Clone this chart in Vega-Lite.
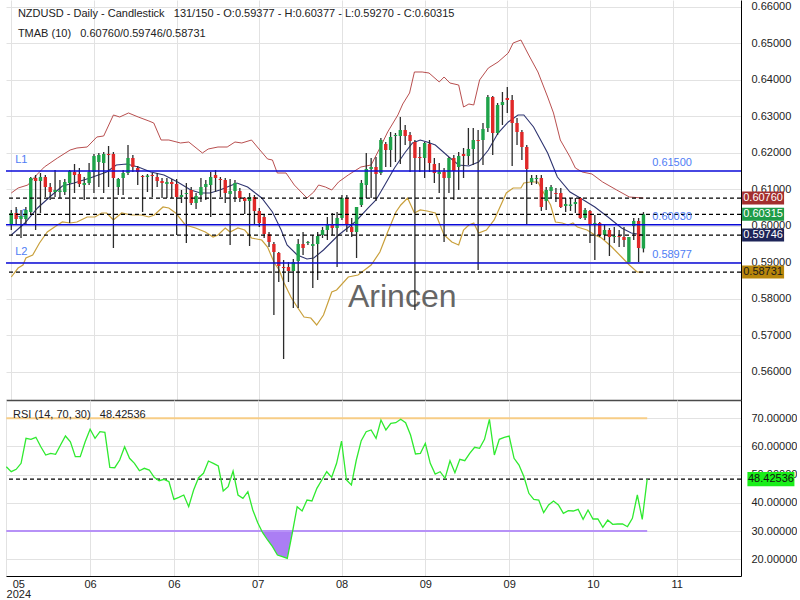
{
"$schema":"https://vega.github.io/schema/vega-lite/v6.json",
"background":"#ffffff",
"padding":{"left":3,"top":0,"right":0,"bottom":0},
"spacing":0,
"config":{"view":{"stroke":null},"font":"Liberation Sans","axis":{"labelFont":"Liberation Sans","labelFontSize":11,"labelColor":"#222222","gridColor":"#e2e2e2","ticks":false,"labelOverlap":false,"labelSeparation":-40}},
"datasets":{
"candles":[
{"i":0,"o":0.60022,"h":0.60433,"l":0.59884,"c":0.60351},
{"i":1,"o":0.60351,"h":0.60515,"l":0.60022,"c":0.60186},
{"i":2,"o":0.60186,"h":0.60433,"l":0.59665,"c":0.60268},
{"i":3,"o":0.60186,"h":0.60515,"l":0.60022,"c":0.60433},
{"i":4,"o":0.60378,"h":0.61338,"l":0.60296,"c":0.6131},
{"i":5,"o":0.6131,"h":0.61393,"l":0.59884,"c":0.61228},
{"i":6,"o":0.61228,"h":0.61447,"l":0.60351,"c":0.61338},
{"i":7,"o":0.61338,"h":0.61393,"l":0.60789,"c":0.61063},
{"i":8,"o":0.61063,"h":0.61173,"l":0.60707,"c":0.60926},
{"i":9,"o":0.60926,"h":0.6153,"l":0.60789,"c":0.60981},
{"i":10,"o":0.60926,"h":0.61255,"l":0.60762,"c":0.60967},
{"i":11,"o":0.60926,"h":0.61283,"l":0.60844,"c":0.61201},
{"i":12,"o":0.61173,"h":0.6153,"l":0.60076,"c":0.61502},
{"i":13,"o":0.61475,"h":0.61694,"l":0.60899,"c":0.61393},
{"i":14,"o":0.6142,"h":0.61584,"l":0.61063,"c":0.61146},
{"i":15,"o":0.61118,"h":0.61338,"l":0.60707,"c":0.61173},
{"i":16,"o":0.61173,"h":0.61722,"l":0.61118,"c":0.61475},
{"i":17,"o":0.61475,"h":0.61968,"l":0.60899,"c":0.61914},
{"i":18,"o":0.61749,"h":0.61996,"l":0.61063,"c":0.61941},
{"i":19,"o":0.61722,"h":0.62023,"l":0.60899,"c":0.61968},
{"i":20,"o":0.61968,"h":0.62188,"l":0.61063,"c":0.61941},
{"i":21,"o":0.61968,"h":0.62023,"l":0.59391,"c":0.6131},
{"i":22,"o":0.61063,"h":0.6131,"l":0.60844,"c":0.61283},
{"i":23,"o":0.6131,"h":0.6153,"l":0.60844,"c":0.61447},
{"i":24,"o":0.61447,"h":0.62215,"l":0.61393,"c":0.61859},
{"i":25,"o":0.61859,"h":0.61941,"l":0.61475,"c":0.61612},
{"i":26,"o":0.61584,"h":0.61639,"l":0.61118,"c":0.61475},
{"i":27,"o":0.61365,"h":0.61393,"l":0.60378,"c":0.61338},
{"i":28,"o":0.61338,"h":0.6142,"l":0.60926,"c":0.61379},
{"i":29,"o":0.61393,"h":0.61447,"l":0.60789,"c":0.61365},
{"i":30,"o":0.61338,"h":0.61447,"l":0.61063,"c":0.61228},
{"i":31,"o":0.61228,"h":0.6131,"l":0.60762,"c":0.61173},
{"i":32,"o":0.61146,"h":0.6131,"l":0.60762,"c":0.61201},
{"i":33,"o":0.61201,"h":0.61283,"l":0.60762,"c":0.61146},
{"i":34,"o":0.61146,"h":0.61283,"l":0.59747,"c":0.60789},
{"i":35,"o":0.60789,"h":0.60981,"l":0.60625,"c":0.60844},
{"i":36,"o":0.60871,"h":0.61173,"l":0.59528,"c":0.60899},
{"i":37,"o":0.60981,"h":0.61063,"l":0.6057,"c":0.60625},
{"i":38,"o":0.60625,"h":0.60899,"l":0.6046,"c":0.60817},
{"i":39,"o":0.60844,"h":0.6131,"l":0.60652,"c":0.61063},
{"i":40,"o":0.61063,"h":0.61255,"l":0.60707,"c":0.61146},
{"i":41,"o":0.61118,"h":0.61475,"l":0.60241,"c":0.61338},
{"i":42,"o":0.61393,"h":0.6153,"l":0.60926,"c":0.6131},
{"i":43,"o":0.61283,"h":0.61338,"l":0.60789,"c":0.61255},
{"i":44,"o":0.61255,"h":0.6131,"l":0.60625,"c":0.60899},
{"i":45,"o":0.60871,"h":0.61283,"l":0.59473,"c":0.60954},
{"i":46,"o":0.60954,"h":0.61255,"l":0.60652,"c":0.61173},
{"i":47,"o":0.60954,"h":0.61036,"l":0.60652,"c":0.60762},
{"i":48,"o":0.60762,"h":0.60789,"l":0.60323,"c":0.6068},
{"i":49,"o":0.6068,"h":0.60899,"l":0.59446,"c":0.60789},
{"i":50,"o":0.60789,"h":0.60844,"l":0.60022,"c":0.60405},
{"i":51,"o":0.60405,"h":0.60488,"l":0.59967,"c":0.60076},
{"i":52,"o":0.60241,"h":0.60296,"l":0.59665,"c":0.59775},
{"i":53,"o":0.59775,"h":0.5983,"l":0.59418,"c":0.59555},
{"i":54,"o":0.59501,"h":0.59555,"l":0.57554,"c":0.59281},
{"i":55,"o":0.59254,"h":0.59281,"l":0.58459,"c":0.58897},
{"i":56,"o":0.5887,"h":0.59062,"l":0.56347,"c":0.58842},
{"i":57,"o":0.5887,"h":0.59007,"l":0.58459,"c":0.5876},
{"i":58,"o":0.5876,"h":0.59089,"l":0.57746,"c":0.59007},
{"i":59,"o":0.59034,"h":0.59638,"l":0.57746,"c":0.59501},
{"i":60,"o":0.59501,"h":0.5983,"l":0.59199,"c":0.59391},
{"i":61,"o":0.59528,"h":0.59583,"l":0.59473,"c":0.59555},
{"i":62,"o":0.59446,"h":0.59747,"l":0.58294,"c":0.59501},
{"i":63,"o":0.59501,"h":0.5983,"l":0.58514,"c":0.5972},
{"i":64,"o":0.59747,"h":0.59967,"l":0.59665,"c":0.59884},
{"i":65,"o":0.59884,"h":0.60241,"l":0.5961,"c":0.60049},
{"i":66,"o":0.60049,"h":0.60351,"l":0.59747,"c":0.59939},
{"i":67,"o":0.59939,"h":0.60378,"l":0.5887,"c":0.60214},
{"i":68,"o":0.60214,"h":0.60844,"l":0.60159,"c":0.60762},
{"i":69,"o":0.60762,"h":0.60844,"l":0.5983,"c":0.60022},
{"i":70,"o":0.59967,"h":0.60214,"l":0.59693,"c":0.5983},
{"i":71,"o":0.5983,"h":0.60515,"l":0.59117,"c":0.60515},
{"i":72,"o":0.6057,"h":0.61255,"l":0.60515,"c":0.61173},
{"i":73,"o":0.61118,"h":0.61996,"l":0.60762,"c":0.61557},
{"i":74,"o":0.61557,"h":0.61859,"l":0.60762,"c":0.61612},
{"i":75,"o":0.61612,"h":0.61886,"l":0.6068,"c":0.6142},
{"i":76,"o":0.61447,"h":0.62407,"l":0.61393,"c":0.62352},
{"i":77,"o":0.62243,"h":0.62297,"l":0.61612,"c":0.62078},
{"i":78,"o":0.62078,"h":0.62572,"l":0.61612,"c":0.62435},
{"i":79,"o":0.62462,"h":0.62544,"l":0.61749,"c":0.62489},
{"i":80,"o":0.62462,"h":0.62983,"l":0.61694,"c":0.62626},
{"i":81,"o":0.62626,"h":0.62764,"l":0.62215,"c":0.62462},
{"i":82,"o":0.62489,"h":0.62572,"l":0.61475,"c":0.62325},
{"i":83,"o":0.62297,"h":0.62352,"l":0.57691,"c":0.61859},
{"i":84,"o":0.61886,"h":0.6216,"l":0.61475,"c":0.61859},
{"i":85,"o":0.61859,"h":0.62297,"l":0.6131,"c":0.6227},
{"i":86,"o":0.62243,"h":0.62352,"l":0.61475,"c":0.61722},
{"i":87,"o":0.61694,"h":0.61859,"l":0.61173,"c":0.61447},
{"i":88,"o":0.6142,"h":0.61722,"l":0.60899,"c":0.61475},
{"i":89,"o":0.61475,"h":0.61584,"l":0.59555,"c":0.6131},
{"i":90,"o":0.6131,"h":0.61886,"l":0.60899,"c":0.61859},
{"i":91,"o":0.61859,"h":0.61941,"l":0.60707,"c":0.61502},
{"i":92,"o":0.61612,"h":0.62023,"l":0.60981,"c":0.61914},
{"i":93,"o":0.61968,"h":0.62133,"l":0.6131,"c":0.61914},
{"i":94,"o":0.61914,"h":0.62681,"l":0.61667,"c":0.62105},
{"i":95,"o":0.62105,"h":0.62681,"l":0.61667,"c":0.62352},
{"i":96,"o":0.62352,"h":0.62626,"l":0.58788,"c":0.62325},
{"i":97,"o":0.62352,"h":0.62818,"l":0.61667,"c":0.62654},
{"i":98,"o":0.62681,"h":0.63586,"l":0.62572,"c":0.63531},
{"i":99,"o":0.63531,"h":0.63559,"l":0.61941,"c":0.62544},
{"i":100,"o":0.62544,"h":0.63367,"l":0.62489,"c":0.63312},
{"i":101,"o":0.63312,"h":0.63668,"l":0.62764,"c":0.63394},
{"i":102,"o":0.63504,"h":0.63806,"l":0.63093,"c":0.63449},
{"i":103,"o":0.63449,"h":0.63586,"l":0.61639,"c":0.62818},
{"i":104,"o":0.62818,"h":0.62955,"l":0.62215,"c":0.62572},
{"i":105,"o":0.62572,"h":0.62626,"l":0.61804,"c":0.6216},
{"i":106,"o":0.6216,"h":0.62215,"l":0.60049,"c":0.61557},
{"i":107,"o":0.61201,"h":0.61393,"l":0.61118,"c":0.6131},
{"i":108,"o":0.61283,"h":0.61393,"l":0.61146,"c":0.6131},
{"i":109,"o":0.6131,"h":0.61393,"l":0.60405,"c":0.60515},
{"i":110,"o":0.6068,"h":0.61063,"l":0.60433,"c":0.60981},
{"i":111,"o":0.60954,"h":0.61118,"l":0.60762,"c":0.61063},
{"i":112,"o":0.60899,"h":0.61036,"l":0.60652,"c":0.60871},
{"i":113,"o":0.60899,"h":0.61036,"l":0.60488,"c":0.60515},
{"i":114,"o":0.60542,"h":0.60762,"l":0.60378,"c":0.60597},
{"i":115,"o":0.60542,"h":0.60762,"l":0.60405,"c":0.60584},
{"i":116,"o":0.60597,"h":0.60762,"l":0.60351,"c":0.60652},
{"i":117,"o":0.60762,"h":0.60789,"l":0.60186,"c":0.60214},
{"i":118,"o":0.60214,"h":0.60488,"l":0.60159,"c":0.60433},
{"i":119,"o":0.60405,"h":0.60433,"l":0.59528,"c":0.60049},
{"i":120,"o":0.60049,"h":0.60296,"l":0.59062,"c":0.60076},
{"i":121,"o":0.60076,"h":0.60104,"l":0.59693,"c":0.59747},
{"i":122,"o":0.59747,"h":0.60022,"l":0.5961,"c":0.59884},
{"i":123,"o":0.59884,"h":0.59939,"l":0.59171,"c":0.59693},
{"i":124,"o":0.59693,"h":0.59967,"l":0.59528,"c":0.5972},
{"i":125,"o":0.5972,"h":0.59884,"l":0.59418,"c":0.59693},
{"i":126,"o":0.59693,"h":0.59967,"l":0.59418,"c":0.5961},
{"i":127,"o":0.59007,"h":0.59693,"l":0.59007,"c":0.59693},
{"i":128,"o":0.59994,"h":0.60214,"l":0.5961,"c":0.60131},
{"i":129,"o":0.60131,"h":0.60214,"l":0.59007,"c":0.59391},
{"i":130,"o":0.59377,"h":0.60377,"l":0.5927,"c":0.60315}
],
"upper":[
{"i":0,"p":0.60899},{"i":1.4,"p":0.61036},{"i":3.4,"p":0.61118},{"i":4.8,"p":0.61338},{"i":6.8,"p":0.61612},{"i":9.5,"p":0.61859},{"i":12.1,"p":0.62078},{"i":13.5,"p":0.62133},{"i":15.6,"p":0.6216},{"i":17.6,"p":0.62435},{"i":19,"p":0.62462},{"i":21,"p":0.63038},{"i":22.3,"p":0.62983},{"i":24.1,"p":0.63093},{"i":26.1,"p":0.62983},{"i":28.3,"p":0.62873},{"i":29.3,"p":0.62818},{"i":30.8,"p":0.62352},{"i":32.4,"p":0.62352},{"i":34.8,"p":0.6227},{"i":36.5,"p":0.62297},{"i":39.3,"p":0.61996},{"i":40.5,"p":0.62105},{"i":42.5,"p":0.6216},{"i":44.4,"p":0.6216},{"i":46,"p":0.62297},{"i":47.4,"p":0.6227},{"i":49.4,"p":0.62352},{"i":50.6,"p":0.6216},{"i":52.7,"p":0.61831},{"i":53.7,"p":0.61804},{"i":54.7,"p":0.61447},{"i":56.5,"p":0.61447},{"i":58.2,"p":0.61118},{"i":60.8,"p":0.60762},{"i":62.2,"p":0.60926},{"i":63.2,"p":0.61118},{"i":64.6,"p":0.61063},{"i":65.9,"p":0.60981},{"i":67.3,"p":0.61201},{"i":69.3,"p":0.61393},{"i":71.9,"p":0.61612},{"i":74,"p":0.61667},{"i":75.8,"p":0.62133},{"i":77.4,"p":0.62572},{"i":79.5,"p":0.63038},{"i":80.5,"p":0.63339},{"i":81.9,"p":0.63641},{"i":82.9,"p":0.64217},{"i":84.5,"p":0.64217},{"i":85.9,"p":0.64189},{"i":88,"p":0.63943},{"i":89,"p":0.6408},{"i":90.2,"p":0.63915},{"i":92,"p":0.6386},{"i":93,"p":0.63257},{"i":94.1,"p":0.63339},{"i":95.1,"p":0.63312},{"i":96.3,"p":0.63997},{"i":98.1,"p":0.64326},{"i":100.1,"p":0.64491},{"i":102.2,"p":0.64738},{"i":103.2,"p":0.65012},{"i":104.8,"p":0.65094},{"i":106.4,"p":0.64683},{"i":108.3,"p":0.64217},{"i":110.3,"p":0.63531},{"i":111.5,"p":0.63093},{"i":112.9,"p":0.62352},{"i":114.9,"p":0.61886},{"i":116,"p":0.61584},{"i":117.4,"p":0.61475},{"i":119.4,"p":0.6142},{"i":121.6,"p":0.61201},{"i":124.5,"p":0.60981},{"i":127.1,"p":0.60789},{"i":130,"p":0.6076}
],
"mid":[
{"i":0,"p":0.59747},{"i":2.8,"p":0.60076},{"i":5.4,"p":0.60488},{"i":7.9,"p":0.60789},{"i":10.5,"p":0.61091},{"i":12.9,"p":0.61173},{"i":16.2,"p":0.6131},{"i":19.6,"p":0.61475},{"i":21.6,"p":0.61667},{"i":23.7,"p":0.61694},{"i":26.1,"p":0.61612},{"i":28.7,"p":0.61475},{"i":31.4,"p":0.61393},{"i":34.2,"p":0.61201},{"i":36.9,"p":0.60981},{"i":38.9,"p":0.60899},{"i":40.9,"p":0.60899},{"i":42.9,"p":0.60981},{"i":46.4,"p":0.61173},{"i":48.6,"p":0.61063},{"i":51.5,"p":0.60762},{"i":53.7,"p":0.60378},{"i":55.5,"p":0.59884},{"i":56.7,"p":0.59473},{"i":58.8,"p":0.59199},{"i":60.8,"p":0.59089},{"i":62.2,"p":0.59117},{"i":64.2,"p":0.59336},{"i":67.3,"p":0.59747},{"i":70.7,"p":0.60104},{"i":73.4,"p":0.60488},{"i":75,"p":0.60707},{"i":76.8,"p":0.61118},{"i":78.8,"p":0.61584},{"i":80.9,"p":0.61996},{"i":82.5,"p":0.6227},{"i":84.1,"p":0.62352},{"i":85.5,"p":0.62297},{"i":87.2,"p":0.62215},{"i":90,"p":0.61886},{"i":92,"p":0.61667},{"i":94.1,"p":0.61639},{"i":96.1,"p":0.61749},{"i":98.1,"p":0.62078},{"i":100.1,"p":0.62544},{"i":102.2,"p":0.62846},{"i":104.2,"p":0.63038},{"i":105.4,"p":0.63038},{"i":107.4,"p":0.6271},{"i":110.3,"p":0.61996},{"i":112.3,"p":0.61338},{"i":114.9,"p":0.60926},{"i":117,"p":0.60762},{"i":120,"p":0.60515},{"i":122.7,"p":0.60241},{"i":125.5,"p":0.59939},{"i":127.5,"p":0.59802},{"i":130,"p":0.59746}
],
"lower":[
{"i":0,"p":0.58596},{"i":1.4,"p":0.58842},{"i":2.4,"p":0.58925},{"i":3,"p":0.59117},{"i":4.4,"p":0.59199},{"i":5.8,"p":0.59528},{"i":7.4,"p":0.5983},{"i":9.5,"p":0.60022},{"i":10.5,"p":0.60104},{"i":12.1,"p":0.60076},{"i":13.5,"p":0.60104},{"i":15.6,"p":0.60241},{"i":17.2,"p":0.60241},{"i":18.6,"p":0.60351},{"i":19.6,"p":0.60351},{"i":21,"p":0.60159},{"i":22.7,"p":0.60351},{"i":24.7,"p":0.60296},{"i":26.7,"p":0.60296},{"i":28.3,"p":0.60241},{"i":29.4,"p":0.60296},{"i":31.2,"p":0.60515},{"i":32.4,"p":0.60488},{"i":33.8,"p":0.60351},{"i":35.8,"p":0.60022},{"i":37.9,"p":0.59939},{"i":39.9,"p":0.5983},{"i":41.5,"p":0.59693},{"i":42.5,"p":0.59747},{"i":44,"p":0.59939},{"i":45,"p":0.5983},{"i":46.6,"p":0.59939},{"i":48,"p":0.59884},{"i":49.4,"p":0.59665},{"i":51.5,"p":0.5961},{"i":52.7,"p":0.59418},{"i":54.1,"p":0.58979},{"i":55.1,"p":0.58788},{"i":56.1,"p":0.58431},{"i":57.5,"p":0.58047},{"i":58.8,"p":0.57773},{"i":60.2,"p":0.57499},{"i":61.6,"p":0.57471},{"i":62.8,"p":0.5728},{"i":64.2,"p":0.57554},{"i":65.9,"p":0.58184},{"i":66.9,"p":0.58239},{"i":69.3,"p":0.58596},{"i":71.3,"p":0.58651},{"i":74,"p":0.58925},{"i":75.8,"p":0.5928},{"i":77.4,"p":0.5983},{"i":79.1,"p":0.60378},{"i":80.1,"p":0.6057},{"i":81.5,"p":0.60762},{"i":82.9,"p":0.60351},{"i":84.1,"p":0.60433},{"i":85.5,"p":0.60405},{"i":87.2,"p":0.60351},{"i":89,"p":0.59747},{"i":90.6,"p":0.59555},{"i":92,"p":0.59473},{"i":93,"p":0.59884},{"i":94.1,"p":0.60022},{"i":95.1,"p":0.60076},{"i":96.1,"p":0.59802},{"i":97.7,"p":0.59884},{"i":99.3,"p":0.60159},{"i":101.8,"p":0.60899},{"i":103.2,"p":0.61036},{"i":104.8,"p":0.61036},{"i":105.4,"p":0.61173},{"i":106.8,"p":0.61201},{"i":108.3,"p":0.61201},{"i":109.5,"p":0.60899},{"i":110.9,"p":0.6057},{"i":111.9,"p":0.60104},{"i":113.3,"p":0.60076},{"i":114.5,"p":0.60022},{"i":115.5,"p":0.60076},{"i":116.4,"p":0.59967},{"i":118.4,"p":0.59884},{"i":120,"p":0.59747},{"i":121.4,"p":0.59665},{"i":123.5,"p":0.59418},{"i":125.5,"p":0.59144},{"i":127.1,"p":0.58925},{"i":128.7,"p":0.58733},{"i":130,"p":0.58731}
],
"rsi":[
{"i":0,"r":52.82},{"i":1,"r":51.05},{"i":2,"r":51.9},{"i":3,"r":54.03},{"i":4,"r":62.9},{"i":5,"r":62.55},{"i":6,"r":63.26},{"i":7,"r":59.92},{"i":8,"r":56.97},{"i":9,"r":57.58},{"i":10,"r":57.22},{"i":11,"r":60.52},{"i":12,"r":63.72},{"i":13,"r":61.69},{"i":14,"r":56.37},{"i":15,"r":56.37},{"i":16,"r":61.69},{"i":17,"r":66.1},{"i":18,"r":62.9},{"i":19,"r":65.24},{"i":20,"r":65.03},{"i":21,"r":52.61},{"i":22,"r":52.47},{"i":23,"r":55.2},{"i":24,"r":59.92},{"i":25,"r":55.8},{"i":26,"r":54.03},{"i":27,"r":51.4},{"i":28,"r":52.25},{"i":29,"r":51.65},{"i":30,"r":49.06},{"i":31,"r":47.85},{"i":32,"r":48.35},{"i":33,"r":47.5},{"i":34,"r":41.25},{"i":35,"r":41.96},{"i":36,"r":42.78},{"i":37,"r":38.63},{"i":38,"r":44.55},{"i":39,"r":48.92},{"i":40,"r":50.48},{"i":41,"r":54.84},{"i":42,"r":54.03},{"i":43,"r":53.07},{"i":44,"r":44.2},{"i":45,"r":45.72},{"i":46,"r":51.3},{"i":47,"r":42.78},{"i":48,"r":41.61},{"i":49,"r":43.95},{"i":50,"r":37.45},{"i":51,"r":32.95},{"i":52,"r":29.4},{"i":53,"r":26.81},{"i":54,"r":24.43},{"i":55,"r":21.48},{"i":56,"r":20.88},{"i":57,"r":20.31},{"i":58,"r":29.18},{"i":59,"r":38.63},{"i":60,"r":37.1},{"i":61,"r":41.0},{"i":62,"r":40.65},{"i":63,"r":45.16},{"i":64,"r":48.1},{"i":65,"r":51.05},{"i":66,"r":49.06},{"i":67,"r":54.03},{"i":68,"r":61.94},{"i":69,"r":48.1},{"i":70,"r":46.33},{"i":71,"r":55.2},{"i":72,"r":62.05},{"i":73,"r":65.24},{"i":74,"r":65.85},{"i":75,"r":62.9},{"i":76,"r":69.4},{"i":77,"r":65.85},{"i":78,"r":68.23},{"i":79,"r":68.44},{"i":80,"r":69.65},{"i":81,"r":68.44},{"i":82,"r":64.07},{"i":83,"r":57.33},{"i":84,"r":57.58},{"i":85,"r":61.13},{"i":86,"r":54.03},{"i":87,"r":50.23},{"i":88,"r":51.05},{"i":89,"r":48.7},{"i":90,"r":54.95},{"i":91,"r":50.69},{"i":92,"r":55.45},{"i":93,"r":54.95},{"i":94,"r":57.58},{"i":95,"r":59.71},{"i":96,"r":59.35},{"i":97,"r":62.55},{"i":98,"r":69.65},{"i":99,"r":56.97},{"i":100,"r":62.55},{"i":101,"r":63.26},{"i":102,"r":63.72},{"i":103,"r":55.8},{"i":104,"r":53.43},{"i":105,"r":49.27},{"i":106,"r":43.38},{"i":107,"r":41.25},{"i":108,"r":41.0},{"i":109,"r":36.5},{"i":110,"r":39.23},{"i":111,"r":40.65},{"i":112,"r":39.23},{"i":113,"r":36.28},{"i":114,"r":37.21},{"i":115,"r":37.1},{"i":116,"r":37.7},{"i":117,"r":34.15},{"i":118,"r":37.45},{"i":119,"r":34.26},{"i":120,"r":34.26},{"i":121,"r":31.31},{"i":122,"r":33.9},{"i":123,"r":32.38},{"i":124,"r":32.49},{"i":125,"r":32.49},{"i":126,"r":31.53},{"i":127,"r":34.51},{"i":128,"r":42.78},{"i":129,"r":34.15},{"i":130,"r":48.42536}
],
"oversold":[
{"i":51.83,"r":30},{"i":52,"r":29.4},{"i":53,"r":26.81},{"i":54,"r":24.43},{"i":55,"r":21.48},{"i":56,"r":20.88},{"i":57,"r":20.31},{"i":58,"r":29.18},{"i":58.09,"r":30}
],
"levels":[{"v":0.615},{"v":0.6003},{"v":0.58977}],
"tmab":[{"v":0.6076},{"v":0.60315},{"v":0.59746},{"v":0.58731}],
"tags":[
{"v":0.6076,"t":"0.60760","k":"upper"},
{"v":0.60315,"t":"0.60315","k":"close"},
{"v":0.59746,"t":"0.59746","k":"mid"},
{"v":0.58731,"t":"0.58731","k":"lower"}
],
"levelLabels":[
{"v":0.615,"name":"L1","t":"0.61500"},
{"v":0.6003,"name":"L0","t":"0.60030"},
{"v":0.58977,"name":"L2","t":"0.58977"}
]
},
"vconcat":[
{
"width":735,"height":400,
"layer":[
{"data":{"name":"candles"},"mark":{"type":"rule","opacity":0},
 "encoding":{
  "x":{"field":"i","type":"quantitative","scale":{"domain":[-0.06,149.03],"nice":false,"zero":false},
       "axis":{"values":[0,17,34,51,68,85,102,119,136],"labels":false,"ticks":false,"grid":true,"domain":true,"domainColor":"#4a4a4a","domainWidth":1.5,"title":null}},
  "y":{"field":"l","type":"quantitative","scale":{"domain":[0.55223,0.66191],"nice":false,"zero":false},
       "axis":{"orient":"right","values":[0.56,0.57,0.58,0.59,0.6,0.61,0.62,0.63,0.64,0.65,0.66],"tickCount":11,"format":".5f","labelOverlap":false,"labelSeparation":-40,"grid":true,"domain":true,"domainColor":"#000000","labelPadding":10,"title":null}},
  "y2":{"field":"h"}}},
{"data":{"values":[{}]},"mark":{"type":"text","text":"Arincen","fontSize":32,"color":"#666666","align":"center","baseline":"middle","font":"Liberation Sans"},
 "encoding":{"x":{"datum":80.4,"type":"quantitative"},"y":{"datum":0.58034,"type":"quantitative"}}},
{"data":{"name":"levelLabels"},"mark":{"type":"text","align":"left","baseline":"middle","dy":-11,"fontSize":11,"color":"#4f7df5"},
 "encoding":{"x":{"datum":0.81,"type":"quantitative"},"y":{"field":"v","type":"quantitative"},"text":{"field":"name"}}},
{"data":{"name":"upper"},"mark":{"type":"line","color":"#b03c3c","strokeWidth":1,"opacity":0.9},
 "encoding":{"x":{"field":"i","type":"quantitative"},"y":{"field":"p","type":"quantitative"}}},
{"data":{"name":"mid"},"mark":{"type":"line","color":"#2e3470","strokeWidth":1.1},
 "encoding":{"x":{"field":"i","type":"quantitative"},"y":{"field":"p","type":"quantitative"}}},
{"data":{"name":"lower"},"mark":{"type":"line","color":"#c9a03c","strokeWidth":1.2},
 "encoding":{"x":{"field":"i","type":"quantitative"},"y":{"field":"p","type":"quantitative"}}},
{"data":{"name":"candles"},"mark":{"type":"rule","color":"#2b2b2b","strokeWidth":1.3},
 "encoding":{"x":{"field":"i","type":"quantitative"},"y":{"field":"l","type":"quantitative"},"y2":{"field":"h"}}},
{"data":{"name":"candles"},"mark":{"type":"bar","width":3.4},
 "encoding":{"x":{"field":"i","type":"quantitative"},"y":{"field":"o","type":"quantitative"},"y2":{"field":"c"},
  "color":{"condition":{"test":"datum.c >= datum.o","value":"#1fa34a"},"value":"#e02828"}}},
{"data":{"name":"levels"},"mark":{"type":"rule","color":"#0a0ad8","strokeWidth":1.5},
 "encoding":{"y":{"field":"v","type":"quantitative"}}},
{"data":{"name":"tmab"},"mark":{"type":"rule","color":"#000000","strokeWidth":1.2,"strokeDash":[4,3]},
 "encoding":{"y":{"field":"v","type":"quantitative"}}},
{"data":{"name":"levelLabels"},"mark":{"type":"text","align":"left","baseline":"middle","dy":-8,"fontSize":11,"color":"#4f7df5"},
 "encoding":{"x":{"datum":131.8,"type":"quantitative"},"y":{"field":"v","type":"quantitative"},"text":{"field":"t"}}},
{"data":{"values":[{}]},"mark":{"type":"text","text":"NZDUSD - Daily - Candlestick\u00a0\u00a0\u00a0131/150 - O:0.59377 - H:0.60377 - L:0.59270 - C:0.60315","fontSize":11,"color":"#222222","align":"left","baseline":"middle"},
 "encoding":{"x":{"datum":1.36,"type":"quantitative"},"y":{"datum":0.65802,"type":"quantitative"}}},
{"data":{"values":[{}]},"mark":{"type":"text","text":"TMAB (10)\u00a0\u00a0\u00a00.60760/0.59746/0.58731","fontSize":11,"color":"#222222","align":"left","baseline":"middle"},
 "encoding":{"x":{"datum":1.36,"type":"quantitative"},"y":{"datum":0.65253,"type":"quantitative"}}},
{"data":{"name":"tags"},"mark":{"type":"point","shape":"M-1,-0.31H1V0.31H-1Z","filled":true,"size":1764,"opacity":1,"strokeWidth":0},
 "encoding":{"x":{"datum":154.6,"type":"quantitative"},"y":{"field":"v","type":"quantitative"},
  "color":{"field":"k","type":"nominal","scale":{"domain":["upper","close","mid","lower"],"range":["#a32e2e","#1e9c48","#1d2458","#b8860b"]},"legend":null}}},
{"data":{"name":"tags"},"mark":{"type":"text","align":"center","baseline":"middle","fontSize":11},
 "encoding":{"x":{"datum":154.6,"type":"quantitative"},"y":{"field":"v","type":"quantitative"},"text":{"field":"t"},
  "color":{"condition":{"test":"datum.k == 'lower'","value":"#1a1a1a"},"value":"#ffffff"}}}
]
},
{
"width":735,"height":176,
"layer":[
{"data":{"name":"rsi"},"mark":{"type":"line","opacity":0},
 "encoding":{
  "x":{"field":"i","type":"quantitative","scale":{"domain":[-0.06,149.03],"nice":false,"zero":false},
       "axis":{"values":[0,17,34,51,68,85,102,119,136],
               "labelExpr":"datum.value == 0 ? ['05','2024'] : datum.value == 17 ? '06' : datum.value == 34 ? '06' : datum.value == 51 ? '07' : datum.value == 68 ? '08' : datum.value == 85 ? '09' : datum.value == 102 ? '09' : datum.value == 119 ? '10' : '11'",
               "labelOffset":{"condition":{"test":"datum.value == 0","value":12},"value":0},
               "labelFlush":false,"labelOverlap":false,"labelBound":false,"labelPadding":2,"labelLineHeight":10.5,
               "grid":true,"domain":true,"domainColor":"#000000","title":null}},
  "y":{"field":"r","type":"quantitative","scale":{"domain":[14.03,76.5],"nice":false,"zero":false},
       "axis":{"orient":"right","values":[20,30,40,50,60,70],"tickCount":6,"format":".5f","labelOverlap":false,"labelSeparation":-40,"labelPadding":10,"grid":true,"domain":true,"domainColor":"#000000","title":null}}}},
{"data":{"name":"oversold"},"mark":{"type":"area","color":"#a777f3","opacity":0.95},
 "encoding":{"x":{"field":"i","type":"quantitative"},"y":{"field":"r","type":"quantitative"},"y2":{"datum":30}}},
{"data":{"values":[{}]},"mark":{"type":"rule","color":"#f7cd86","strokeWidth":2},
 "encoding":{"x":{"datum":0,"type":"quantitative"},"x2":{"datum":130},"y":{"datum":70,"type":"quantitative"}}},
{"data":{"values":[{}]},"mark":{"type":"rule","color":"#b792f7","strokeWidth":2},
 "encoding":{"x":{"datum":0,"type":"quantitative"},"x2":{"datum":130},"y":{"datum":30,"type":"quantitative"}}},
{"data":{"values":[{}]},"mark":{"type":"rule","color":"#000000","strokeWidth":1.2,"strokeDash":[4,3]},
 "encoding":{"y":{"datum":48.42536,"type":"quantitative"}}},
{"data":{"name":"rsi"},"mark":{"type":"line","color":"#2fea2f","strokeWidth":1.3},
 "encoding":{"x":{"field":"i","type":"quantitative"},"y":{"field":"r","type":"quantitative"}}},
{"data":{"values":[{}]},"mark":{"type":"text","text":"RSI (14, 70, 30)\u00a0\u00a0\u00a048.42536","fontSize":11,"color":"#222222","align":"left","baseline":"middle"},
 "encoding":{"x":{"datum":1.36,"type":"quantitative"},"y":{"datum":71.06,"type":"quantitative"}}},
{"data":{"values":[{}]},"mark":{"type":"point","shape":"M-1,-0.3H1V0.3H-1Z","filled":true,"size":2209,"opacity":1,"strokeWidth":0,"color":"#19ee19"},
 "encoding":{"x":{"datum":155.1,"type":"quantitative"},"y":{"datum":48.42536,"type":"quantitative"}}},
{"data":{"values":[{}]},"mark":{"type":"text","text":"48.42536","align":"center","baseline":"middle","fontSize":11,"color":"#111111"},
 "encoding":{"x":{"datum":155.1,"type":"quantitative"},"y":{"datum":48.42536,"type":"quantitative"}}}
]
}
]
}
